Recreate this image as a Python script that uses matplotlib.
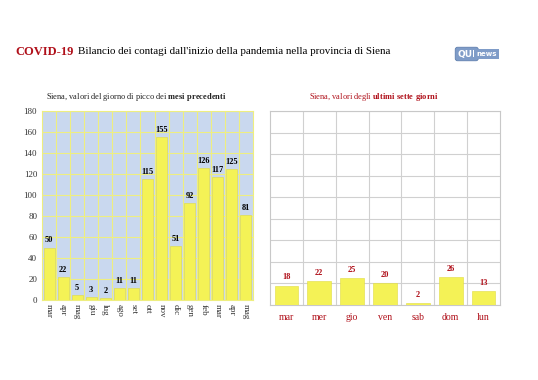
import matplotlib
matplotlib.use("Agg")
from matplotlib import pyplot as plt

# monthly peak values
months = ["mar", "apr", "mag", "giu", "lug", "ago", "set", "ott", "nov",
          "dic", "gen", "feb", "mar", "apr", "mag"]
peak_values = [50, 22, 5, 3, 2, 11, 11, 115, 155, 51, 92, 126, 117, 125, 81]

# last seven days
days = ["mar", "mer", "gio", "ven", "sab", "dom", "lun"]
day_values = [18, 22, 25, 20, 2, 26, 13]

plt.rcParams['font.family'] = ['Liberation Serif', 'DejaVu Serif']
plt.rcParams['mathtext.fontset'] = 'custom'
plt.rcParams['mathtext.rm'] = 'Liberation Serif'
plt.rcParams['mathtext.bf'] = 'Liberation Serif:bold'

dark_red = '#b0101a'
bar_yellow = '#f4f256'

fig = plt.figure(figsize=(5.38, 3.80), dpi=100)

# title
fig.text(15/538, 1 - 52/380, "COVID-19", color=dark_red, fontsize=9,
         fontweight='bold', va='center', ha='left')
fig.text(78/538, 1 - 52/380, "Bilancio dei contagi dall'inizio della pandemia nella provincia di Siena",
         color='black', fontsize=7.9, va='center', ha='left')
fig.text(476/538, 1 - 54/380, "QUI", color='white', fontsize=6.5, fontweight='bold',
         family='DejaVu Sans', va='center', ha='right',
         bbox=dict(boxstyle='round,pad=0.25', fc='#7f9cc8', ec='#5f7fae', lw=0.6))
fig.text(476/538, 1 - 54/380, "news", color='white', fontsize=5, fontweight='bold',
         family='DejaVu Sans', va='center', ha='left',
         bbox=dict(boxstyle='square,pad=0.35', fc='#7f9cc8', ec='#7f9cc8', lw=0))

# subtitles
fig.text(136/538, 1 - 97/380,
         "Siena, valori del giorno di picco dei $\\mathbf{mesi\\ precedenti}$",
         fontsize=6, color='#222222', ha='center', va='center')
fig.text(374/538, 1 - 97/380,
         "Siena, valori degli $\\mathbf{ultimi\\ sette\\ giorni}$",
         fontsize=6, color=dark_red, ha='center', va='center')

# left chart
ax1 = fig.add_axes([42/538, 1 - 300/380, 211/538, 189/380])
ax1.set_facecolor('#c9d8ef')
x1 = range(len(months))
ax1.bar(x1, peak_values, width=0.78, color=bar_yellow, edgecolor='#e0dc40',
        linewidth=0.4, zorder=3)
for i, v in enumerate(peak_values):
    ax1.text(i, v + 3, str(v), ha='center', va='bottom', fontsize=6,
             fontweight='bold', color='black', zorder=4)
ax1.set_xlim(-0.5, len(months) - 0.5)
ax1.set_ylim(0, 180)
ax1.set_yticks(range(0, 181, 20))
ax1.set_xticks(list(x1))
ax1.set_xticklabels(months, rotation=270, fontsize=6.5)
ax1.set_xticks([i + 0.5 for i in range(len(months) - 1)], minor=True)
ax1.tick_params(axis='y', labelsize=6.5, length=0, colors='#333333')
ax1.tick_params(axis='x', which='both', length=0, pad=3, colors='#333333')
ax1.grid(True, axis='y', color='#eeee80', linewidth=0.8, zorder=1)
ax1.grid(True, axis='x', which='minor', color='#eeee80', linewidth=0.8, zorder=1)
for s in ax1.spines.values():
    s.set_color('#eeee80')
    s.set_linewidth(0.8)

# right chart
ax2 = fig.add_axes([270/538, 1 - 305/380, 230/538, 194/380])
ax2.set_facecolor('white')
x2 = range(len(days))
ax2.bar(x2, day_values, width=0.72, color=bar_yellow, edgecolor='#e0dc40',
        linewidth=0.4, zorder=3)
for i, v in enumerate(day_values):
    ax2.text(i, v + 4, str(v), ha='center', va='bottom', fontsize=6,
             fontweight='bold', color=dark_red, zorder=4)
ax2.set_xlim(-0.5, len(days) - 0.5)
ax2.set_ylim(0, 180)
ax2.set_yticks(range(0, 181, 20))
ax2.set_yticklabels([])
ax2.set_xticks(list(x2))
ax2.set_xticklabels(days, fontsize=7, color=dark_red)
ax2.set_xticks([i + 0.5 for i in range(len(days) - 1)], minor=True)
ax2.tick_params(axis='both', which='both', length=0)
ax2.tick_params(axis='x', pad=6)
ax2.grid(True, axis='y', color='#d0d0d0', linewidth=0.8, zorder=1)
ax2.grid(True, axis='x', which='minor', color='#d0d0d0', linewidth=0.8, zorder=1)
for s in ax2.spines.values():
    s.set_color('#c8c8c8')
    s.set_linewidth(0.8)

fig.savefig("out.png", dpi=100)
